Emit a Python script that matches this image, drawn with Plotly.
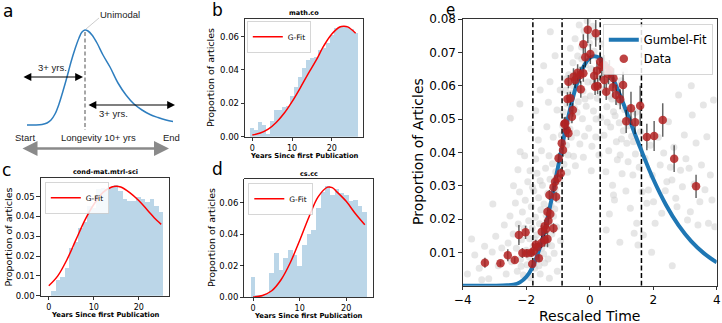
import plotly.graph_objects as go

W, H = 722, 323
def px_x(v): return v / W
def px_y(v): return 1 - v / H

FONT = "DejaVu Sans"
HELV = "Liberation Sans"
BAR = "rgba(31,119,180,0.3)"

# ---------------- data ----------------
# panel a: schematic curve (arbitrary schematic units)
a_curve_x = [27, 35, 42, 47, 51, 55, 59, 63, 67, 71, 75, 79, 82, 85, 88, 92, 97, 103, 110, 118, 126, 134, 142, 150, 158, 166, 173]
a_curve_y = [125, 125, 124.5, 123, 120, 114, 104, 91, 77, 62, 49, 38, 32, 30, 31, 35, 43, 55, 67, 83, 95, 104, 110, 114.5, 117.5, 120, 121.5]

# panel b: math.co
b_years = list(range(0, 27))
b_vals = [0.0050, 0.0043, 0.0088, 0.0070, 0.0018, 0.0095, 0.0160, 0.0160, 0.0180, 0.0185, 0.0245,
          0.0300, 0.0360, 0.0410, 0.0460, 0.0470, 0.0480, 0.0520, 0.0530, 0.0560, 0.0610, 0.0650,
          0.0660, 0.0663, 0.0655, 0.0645, 0.0620]
b_fit_x = [0, 2, 4, 6, 8, 10, 12, 14, 16, 18, 20, 22, 23, 24, 26]
b_fit_y = [0.0010, 0.0022, 0.0045, 0.0085, 0.0140, 0.0210, 0.0290, 0.0375, 0.0455, 0.0545, 0.0615, 0.0657, 0.0662, 0.0658, 0.0620]

# panel c: cond-mat.mtrl-sci
c_years = list(range(0, 26))
c_vals = [0.0, 0.0025, 0.0080, 0.0095, 0.0140, 0.0240, 0.0270, 0.0340, 0.0370, 0.0450, 0.0440,
          0.0540, 0.0545, 0.0540, 0.0550, 0.0560, 0.0530, 0.0490, 0.0480, 0.0480, 0.0500, 0.0490,
          0.0470, 0.0490, 0.0450, 0.0420]
c_fit_x = [0, 2, 4, 6, 8, 10, 12, 14, 15, 16, 18, 20, 22, 24, 25]
c_fit_y = [0.0050, 0.0100, 0.0180, 0.0280, 0.0380, 0.0460, 0.0520, 0.0548, 0.0552, 0.0548, 0.0520, 0.0480, 0.0430, 0.0380, 0.0360]

# panel d: cs.cc
d_years = list(range(0, 25))
d_vals = [0.0130, 0.0015, 0.0015, 0.0020, 0.0150, 0.0280, 0.0170, 0.0250, 0.0300, 0.0270, 0.0200,
          0.0330, 0.0400, 0.0430, 0.0570, 0.0670, 0.0710, 0.0650, 0.0690, 0.0660, 0.0650, 0.0610,
          0.0620, 0.0580, 0.0540]
d_fit_x = [0, 2, 4, 6, 8, 10, 12, 14, 16, 17, 18, 20, 22, 24]
d_fit_y = [0.0000, 0.0010, 0.0040, 0.0110, 0.0220, 0.0360, 0.0510, 0.0640, 0.0700, 0.0697, 0.0670, 0.0610, 0.0530, 0.0460]

# panel e: Gumbel fit
e_fit_x = [-4.0, -3.0, -2.6, -2.4, -2.2, -2.0, -1.8, -1.6, -1.4, -1.2, -1.0, -0.8, -0.6, -0.4, -0.2, 0.0, 0.15,
           0.3, 0.5, 0.7, 1.0, 1.2, 1.4, 1.6, 2.0, 2.4, 2.8, 3.2, 3.6, 4.0]
e_fit_y = [0.0, 0.0, 0.0001, 0.0003, 0.0010, 0.0026, 0.0056, 0.0105, 0.0173, 0.0260, 0.0355, 0.0451, 0.0537,
           0.0607, 0.0656, 0.0683, 0.0688, 0.0683, 0.0661, 0.0628, 0.0561, 0.0512, 0.0461, 0.0412, 0.0320,
           0.0243, 0.0181, 0.0133, 0.0097, 0.0070]

# panel e: data points with error bars
e_data_x = [-3.30, -2.81, -2.58, -2.36, -2.23, -2.02, -2.12, -1.98, -1.84, -1.81, -1.76, -1.70, -1.66, -1.60,
            -1.52, -1.42, -1.33, -1.51, -1.42, -1.37, -1.30, -1.14, -1.33, -1.24, -1.27, -1.06, -1.14, -1.09,
            -1.01, -0.91, -0.98, -0.84, -0.88, -0.72, -0.67, -0.77, -0.80, -0.56, -0.53, -0.70, -0.61, -0.28,
            -0.67, -0.46, -0.51, -0.38, -0.30, -0.20, -0.14, -0.20, 0.02, -0.06, 0.19, 0.14, 0.17, 0.23,
            0.25, 0.33, 0.38, 0.46, 0.46, 0.59, 0.62, 0.52, 0.73, 0.75, 0.83, 0.96, 1.05, 1.15, 1.30, 1.43,
            1.59, 1.80, 2.03, 2.30, 2.66, 3.35]
e_data_y = [0.0069, 0.0067, 0.0091, 0.0077, 0.0152, 0.0160, 0.0098, 0.0097, 0.0099, 0.0065, 0.0104, 0.0123,
            0.0115, 0.0082, 0.0128, 0.0137, 0.0140, 0.0162, 0.0178, 0.0170, 0.0195, 0.0172, 0.0222, 0.0215,
            0.0272, 0.0267, 0.0295, 0.0312, 0.0322, 0.0337, 0.0382, 0.0407, 0.0427, 0.0467, 0.0457, 0.0487,
            0.0485, 0.0507, 0.0527, 0.0560, 0.0562, 0.0589, 0.0612, 0.0617, 0.0627, 0.0639, 0.0632, 0.0637,
            0.0685, 0.0724, 0.0695, 0.0768, 0.0757, 0.0630, 0.0597, 0.0645, 0.0599, 0.0672, 0.0657, 0.0662,
            0.0617, 0.0635, 0.0647, 0.0582, 0.0595, 0.0622, 0.0572, 0.0559, 0.0602, 0.0493, 0.0532, 0.0490,
            0.0540, 0.0446, 0.0449, 0.0497, 0.0381, 0.0298]
e_data_err = [0.0015, 0.0008, 0.0018, 0.0008, 0.0030, 0.0020, 0.0015, 0.0012, 0.0012, 0.0010, 0.0012, 0.0015,
              0.0012, 0.0010, 0.0015, 0.0020, 0.0025, 0.0020, 0.0020, 0.0015, 0.0020, 0.0015, 0.0015, 0.0015,
              0.0015, 0.0015, 0.0015, 0.0015, 0.0015, 0.0015, 0.0015, 0.0020, 0.0020, 0.0020, 0.0020, 0.0020,
              0.0020, 0.0020, 0.0020, 0.0020, 0.0020, 0.0025, 0.0020, 0.0025, 0.0025, 0.0025, 0.0025, 0.0025,
              0.0030, 0.0030, 0.0030, 0.0040, 0.0040, 0.0025, 0.0025, 0.0025, 0.0025, 0.0030, 0.0030, 0.0030,
              0.0025, 0.0030, 0.0030, 0.0025, 0.0030, 0.0030, 0.0030, 0.0030, 0.0040, 0.0035, 0.0050, 0.0035,
              0.0060, 0.0040, 0.0045, 0.0050, 0.0040, 0.0035]

# panel e: background cloud of individual fields
cloud = [
    (-3.85, 0.0035), (-3.62, 0.0092), (-3.48, 0.0052), (-3.31, 0.0118), (-3.18, 0.0021), (-3.07, 0.0101),
    (-2.96, 0.0148), (-2.88, 0.0060), (-2.77, 0.0113), (-2.69, 0.0182), (-2.63, 0.0035), (-2.57, 0.0128),
    (-2.51, 0.0209), (-2.46, 0.0072), (-2.41, 0.0155), (-3.72, 0.0140), (-3.40, 0.0018), (-2.50, 0.0502),
    (-2.19, 0.0402), (-3.05, 0.0245),
    (-2.34, 0.0248), (-2.31, 0.0112), (-2.28, 0.0043), (-2.25, 0.0185), (-2.21, 0.0281), (-2.18, 0.0079),
    (-2.15, 0.0138), (-2.12, 0.0221), (-2.09, 0.0032), (-2.06, 0.0172), (-2.03, 0.0256), (-2.00, 0.0106),
    (-1.97, 0.0063), (-1.95, 0.0312), (-1.92, 0.0195), (-1.89, 0.0141), (-1.86, 0.0024), (-1.84, 0.0237),
    (-1.81, 0.0173), (-1.78, 0.0118), (-1.76, 0.0285), (-1.73, 0.0052), (-1.71, 0.0205), (-1.68, 0.0152),
    (-1.66, 0.0337), (-1.63, 0.0089), (-1.61, 0.0264), (-1.58, 0.0186), (-1.56, 0.0035), (-1.54, 0.0228),
    (-1.51, 0.0112), (-1.49, 0.0301), (-1.47, 0.0167), (-1.44, 0.0245), (-1.42, 0.0068), (-1.39, 0.0352),
    (-1.37, 0.0211), (-1.34, 0.0128), (-1.32, 0.0277), (-1.29, 0.0189), (-1.27, 0.0022), (-1.25, 0.0319),
    (-1.22, 0.0241), (-1.19, 0.0155), (-1.17, 0.0366), (-1.14, 0.0208), (-1.12, 0.0097), (-1.09, 0.0289),
    (-1.07, 0.0342), (-1.04, 0.0176), (-1.02, 0.0043), (-0.99, 0.0258), (-0.97, 0.0387), (-0.94, 0.0312),
    (-0.92, 0.0135), (-1.88, 0.0345), (-2.05, 0.0390), (-1.62, 0.0437), (-1.35, 0.0477), (-1.80, 0.0295),
    (-2.40, 0.0300), (-1.52, 0.0405),
    (-2.16, 0.0058), (-1.90, 0.0085), (-1.74, 0.0140), (-1.60, 0.0060), (-1.45, 0.0095), (-1.31, 0.0080),
    (-1.20, 0.0120), (-1.10, 0.0230), (-1.56, 0.0315), (-1.28, 0.0390), (-1.70, 0.0380), (-2.26, 0.0348),
    (-1.56, 0.0587), (-1.25, 0.0612), (-1.09, 0.0690), (-1.24, 0.0762), (-1.03, 0.0527), (-0.93, 0.0587),
    (-1.30, 0.0550), (-1.85, 0.0470), (-1.70, 0.0525), (-1.15, 0.0445), (-2.20, 0.0545), (-1.45, 0.0660),
    (-0.89, 0.0452), (-0.86, 0.0398), (-0.83, 0.0521), (-0.81, 0.0364), (-0.78, 0.0473), (-0.76, 0.0586),
    (-0.73, 0.0421), (-0.71, 0.0545), (-0.68, 0.0392), (-0.66, 0.0633), (-0.63, 0.0497), (-0.61, 0.0712),
    (-0.58, 0.0445), (-0.56, 0.0578), (-0.53, 0.0669), (-0.51, 0.0388), (-0.48, 0.0532), (-0.46, 0.0741),
    (-0.43, 0.0605), (-0.41, 0.0458), (-0.38, 0.0689), (-0.36, 0.0552), (-0.33, 0.0782), (-0.31, 0.0425),
    (-0.28, 0.0637), (-0.26, 0.0716), (-0.23, 0.0501), (-0.21, 0.0584), (-0.18, 0.0765), (-0.16, 0.0448),
    (-0.13, 0.0662), (-0.11, 0.0538), (-0.08, 0.0795), (-0.06, 0.0611), (-0.03, 0.0472), (-0.01, 0.0728),
    (0.02, 0.0569), (0.04, 0.0651), (0.07, 0.0418), (0.09, 0.0778), (0.12, 0.0524), (0.14, 0.0703),
    (0.17, 0.0597), (0.19, 0.0446), (0.22, 0.0746), (0.24, 0.0562), (0.27, 0.0681), (0.29, 0.0392),
    (0.32, 0.0623), (0.35, 0.0504), (0.38, 0.0725), (-0.70, 0.0340), (-0.45, 0.0360), (-0.20, 0.0385),
    (0.05, 0.0345), (-0.62, 0.0470), (-0.40, 0.0520), (-0.15, 0.0560), (0.10, 0.0610), (-0.52, 0.0600),
    (-0.25, 0.0680), (0.00, 0.0750), (0.20, 0.0500), (-0.85, 0.0480), (-0.74, 0.0620),
    (0.42, 0.0588), (0.45, 0.0451), (0.48, 0.0672), (0.51, 0.0342), (0.54, 0.0537), (0.57, 0.0612),
    (0.60, 0.0405), (0.63, 0.0568), (0.66, 0.0476), (0.69, 0.0645), (0.72, 0.0301), (0.75, 0.0522),
    (0.78, 0.0257), (0.81, 0.0594), (0.84, 0.0432), (0.87, 0.0378), (0.90, 0.0551), (0.93, 0.0489),
    (0.96, 0.0392), (0.99, 0.0615), (1.02, 0.0336), (1.06, 0.0465), (1.10, 0.0528), (1.14, 0.0284),
    (1.17, 0.0427), (1.21, 0.0372), (1.25, 0.0501), (1.28, 0.0232), (1.32, 0.0448), (1.36, 0.0332),
    (1.40, 0.0157), (1.44, 0.0395), (1.48, 0.0187), (1.52, 0.0122), (1.56, 0.0355), (1.60, 0.0462),
    (1.65, 0.0282), (1.69, 0.0152), (0.52, 0.0167), (0.75, 0.0272), (1.38, 0.0432), (0.95, 0.0130),
    (0.62, 0.0215), (1.10, 0.0645), (0.55, 0.0490), (0.80, 0.0510), (1.00, 0.0440), (1.20, 0.0480),
    (0.70, 0.0560), (0.88, 0.0600), (1.45, 0.0520),
    (1.74, 0.0382), (1.80, 0.0247), (1.85, 0.0287), (1.91, 0.0421), (1.97, 0.0331), (2.01, 0.0252),
    (2.06, 0.0187), (2.11, 0.0662), (2.16, 0.0445), (2.22, 0.0362), (2.27, 0.0217), (2.33, 0.0398),
    (2.38, 0.0285), (2.43, 0.0312), (2.48, 0.0492), (2.54, 0.0355), (2.59, 0.0317), (2.65, 0.0415),
    (2.71, 0.0262), (2.75, 0.0237), (2.80, 0.0572), (2.86, 0.0346), (2.92, 0.0297), (2.98, 0.0452),
    (3.03, 0.0381), (3.08, 0.0197), (3.13, 0.0352), (3.17, 0.0222), (3.23, 0.0512), (3.29, 0.0305),
    (3.35, 0.0428), (3.41, 0.0182), (3.47, 0.0252), (3.52, 0.0362), (3.58, 0.0542), (3.63, 0.0288),
    (3.69, 0.0447), (3.74, 0.0187), (3.80, 0.0332), (3.85, 0.0257), (3.90, 0.0557), (3.94, 0.0177),
    (3.20, 0.0600), (2.60, 0.0060), (1.95, 0.0100),
]
cloud_x = [p[0] for p in cloud]
cloud_y = [p[1] for p in cloud]

# panel e: dashed vertical markers
e_vlines = [-1.79, -0.87, 0.33, 1.63]

# tick definitions
b_yticks = [0.0, 0.02, 0.04, 0.06]
c_yticks = [0.0, 0.01, 0.02, 0.03, 0.04, 0.05]
d_yticks = [0.0, 0.02, 0.04, 0.06]
hist_xticks = [0, 10, 20]
e_xticks = [-4, -2, 0, 2, 4]
e_xticklabels = ["\u22124", "\u22122", "0", "2", "4"]
e_yticks = [0.01, 0.02, 0.03, 0.04, 0.05, 0.06, 0.07, 0.08]

# axis ranges
b_xr, b_yr = [-1.85, 27.85], [0, 0.0705]
c_xr, c_yr = [-1.8, 26.8], [0, 0.0592]
d_xr, d_yr = [-1.9, 25.7], [0, 0.0750]
e_xr, e_yr = [-4, 4], [0, 0.08]

# ---------------- figure ----------------
fig = go.Figure()

fig.add_trace(go.Scatter(x=a_curve_x, y=a_curve_y, mode="lines", xaxis="x", yaxis="y",
                         line=dict(color="#2e7ebf", width=1.5, shape="spline"),
                         showlegend=False, hoverinfo="skip"))

def hist_panel(n, years, vals, fx, fy, leg):
    fig.add_trace(go.Bar(x=years, y=vals, width=1, xaxis=f"x{n}", yaxis=f"y{n}",
                         marker=dict(color=BAR, line=dict(width=0)), showlegend=False))
    fig.add_trace(go.Scatter(x=fx, y=fy, mode="lines", name="G-Fit", xaxis=f"x{n}", yaxis=f"y{n}",
                             line=dict(color="red", width=1.5, shape="spline"), legend=leg))

hist_panel(2, b_years, b_vals, b_fit_x, b_fit_y, "legend")
hist_panel(3, c_years, c_vals, c_fit_x, c_fit_y, "legend2")
hist_panel(4, d_years, d_vals, d_fit_x, d_fit_y, "legend3")

fig.add_trace(go.Scatter(x=cloud_x, y=cloud_y, mode="markers", xaxis="x5", yaxis="y5",
                         marker=dict(size=7, color="rgba(205,205,205,0.5)", line=dict(width=0)),
                         showlegend=False, hoverinfo="skip"))
for v in e_vlines:
    fig.add_trace(go.Scatter(x=[v, v], y=e_yr, mode="lines", xaxis="x5", yaxis="y5",
                             line=dict(color="black", width=1.5, dash="5px,2.6px"),
                             showlegend=False, hoverinfo="skip"))
fig.add_trace(go.Scatter(x=e_fit_x, y=e_fit_y, mode="lines", name="Gumbel-Fit", xaxis="x5", yaxis="y5",
                         line=dict(color="#1f77b4", width=4, shape="spline"), legend="legend4"))
fig.add_trace(go.Scatter(x=e_data_x, y=e_data_y, mode="markers", name="Data", xaxis="x5", yaxis="y5",
                         marker=dict(size=8.5, color="rgba(178,34,34,0.85)", line=dict(width=0)),
                         error_y=dict(type="data", array=e_data_err, color="rgba(0,0,0,0.6)",
                                      thickness=1.5, width=0),
                         legend="legend4"))

def mpl_axis(domain, rng, anchor, tickvals, ticktext=None, size=8.5):
    return dict(domain=domain, range=rng, anchor=anchor, showline=True, mirror=True,
                linecolor="black", linewidth=0.8, ticks="outside", ticklen=3.5, tickwidth=0.8,
                tickcolor="black", showgrid=False, zeroline=False, tickvals=tickvals,
                ticktext=ticktext, tickfont=dict(family=FONT, size=size, color="black"),
                fixedrange=True, automargin=False)

def fmt2(vals):
    return [f"{v:.2f}" for v in vals]

layout = dict(
    width=W, height=H, margin=dict(l=0, r=0, t=0, b=0, pad=0), autosize=False,
    paper_bgcolor="white", plot_bgcolor="white", bargap=0, showlegend=True,
    xaxis=dict(domain=[0, px_x(180)], range=[0, 180], anchor="y", visible=False, fixedrange=True),
    yaxis=dict(domain=[px_y(160), 1], range=[160, 0], anchor="x", visible=False, fixedrange=True),
    xaxis2=mpl_axis([px_x(245), px_x(363)], b_xr, "y2", hist_xticks, [str(t) for t in hist_xticks], 8),
    yaxis2=mpl_axis([px_y(136.7), px_y(19)], b_yr, "x2", b_yticks, fmt2(b_yticks)),
    xaxis3=mpl_axis([px_x(40.7), px_x(169.3)], c_xr, "y3", hist_xticks, [str(t) for t in hist_xticks], 8),
    yaxis3=mpl_axis([px_y(295.7), px_y(178.3)], c_yr, "x3", c_yticks, fmt2(c_yticks)),
    xaxis4=mpl_axis([px_x(244.3), px_x(372.7)], d_xr, "y4", hist_xticks, [str(t) for t in hist_xticks], 8),
    yaxis4=mpl_axis([px_y(297), px_y(179.3)], d_yr, "x4", d_yticks, fmt2(d_yticks)),
    xaxis5=mpl_axis([px_x(462.7), px_x(716.7)], e_xr, "y5", e_xticks, e_xticklabels, size=12),
    yaxis5=mpl_axis([px_y(285.7), px_y(19)], e_yr, "x5", e_yticks, fmt2(e_yticks), size=12),
)

def leg(x, y, size):
    return dict(x=px_x(x), y=px_y(y), xanchor="left", yanchor="top", bgcolor="rgba(255,255,255,0.85)",
                bordercolor="#cccccc", borderwidth=0.8, font=dict(family=FONT, size=size, color="black"),
                itemwidth=30, tracegroupgap=0)

layout["legend"] = leg(247, 21.5, 7.5)
layout["legend2"] = leg(45, 182.5, 7.5)
layout["legend3"] = leg(248.5, 183.5, 7.5)
layout["legend4"] = leg(603, 24.5, 11.5)

ann = []
def text(x, y, s, size, family=FONT, bold=False, angle=0, color="black", xanchor="center"):
    ann.append(dict(x=px_x(x), y=px_y(y), xref="paper", yref="paper", text=f"<b>{s}</b>" if bold else s,
                    showarrow=False, font=dict(family=family, size=size, color=color),
                    textangle=angle, xanchor=xanchor, yanchor="middle"))

# panel letters
text(8, 11, "a", 17)
text(217, 10, "b", 17)
text(7, 170, "c", 17)
text(217, 169, "d", 17)
text(450, 10, "e", 15)

# panel titles
text(304, 13, "math.co", 6.5, bold=True)
text(105, 172.5, "cond-mat.mtrl-sci", 6.5, bold=True)
text(308.5, 174, "cs.cc", 6.5, bold=True)

# axis titles
text(304, 156, "Years Since first Publication", 6.8, bold=True)
text(105, 315, "Years Since first Publication", 6.8, bold=True)
text(308.5, 316, "Years Since first Publication", 6.8, bold=True)
text(210, 78, "Proportion of articles", 9.5, angle=-90)
text(7.5, 237, "Proportion of articles", 9.5, angle=-90)
text(211, 238, "Proportion of articles", 9.5, angle=-90)
text(589.7, 315.5, "Rescaled Time", 14)
text(418, 152, "Proportion of Articles", 14, angle=-90)

# panel a text
def atext(x, y, s):
    ann.append(dict(x=x, y=y, xref="x", yref="y", text=s, showarrow=False,
                    font=dict(family=HELV, size=9.5, color="#222")))
atext(120, 14, "Unimodal")
atext(52, 67, "3+ yrs.")
atext(113, 113, "3+ yrs.")
atext(25, 137, "Start")
atext(98, 137, "Longevity 10+ yrs")
atext(171, 137, "End")

def arrow(x0, y0, x1, y1, color, width, size):
    ann.append(dict(x=x1, y=y1, ax=x0, ay=y0, xref="x", yref="y", axref="x", ayref="y", text="",
                    showarrow=True, arrowhead=2, startarrowhead=2, arrowside="end+start",
                    arrowcolor=color, arrowwidth=width, arrowsize=size, startarrowsize=size,
                    standoff=0, startstandoff=0))

arrow(22, 77, 83, 77, "black", 1.2, 1.3)
arrow(87, 105, 175, 105, "black", 1.2, 1.3)
arrow(21, 148.5, 169, 148.5, "#8a8a8a", 2.5, 1.2)

layout["annotations"] = ann
layout["shapes"] = [
    dict(type="line", xref="x", yref="y", x0=85, x1=85, y0=32, y1=130,
         line=dict(color="#8a8a8a", width=1.5, dash="4px,2.5px")),
    dict(type="line", xref="x", yref="y", x0=86, x1=99, y0=29, y1=18,
         line=dict(color="#aaaaaa", width=0.6)),
]

fig.update_layout(**layout)
fig.write_html("out.html", config={"displayModeBar": False, "staticPlot": True},
               post_script="document.body.style.margin='0px';document.body.style.padding='0px';")
